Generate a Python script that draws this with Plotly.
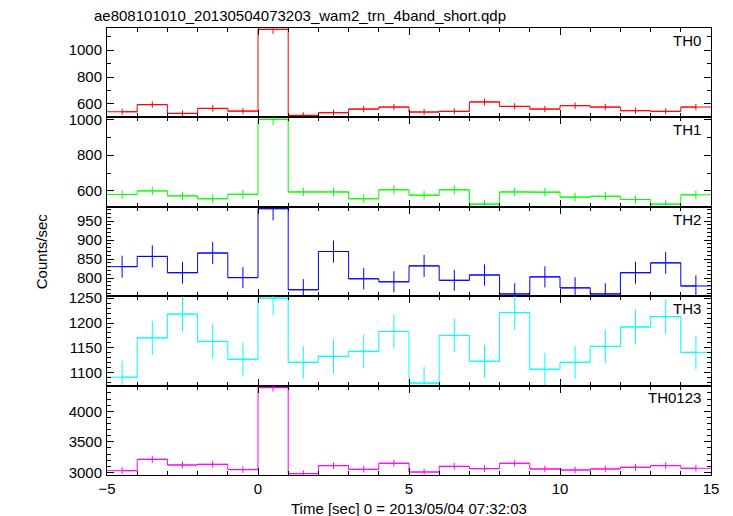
import plotly.graph_objects as go
from plotly.subplots import make_subplots

title_text = "ae808101010_20130504073203_wam2_trn_4band_short.qdp"
x_title = "Time [sec] 0 = 2013/05/04 07:32:03"
y_title = "Counts/sec"

time_center = [-4.5, -3.5, -2.5, -1.5, -0.5, 0.5, 1.5, 2.5, 3.5, 4.5,
               5.5, 6.5, 7.5, 8.5, 9.5, 10.5, 11.5, 12.5, 13.5, 14.5]
half_bin = [0.5] * 20

th0 = [542, 595, 530, 567, 547, 1155, 515, 535, 562, 577,
       540, 545, 615, 582, 562, 587, 577, 550, 545, 577]
th0_err = [23, 24, 23, 24, 23, 34, 23, 23, 24, 24,
           23, 23, 25, 24, 24, 24, 24, 23, 23, 24]
th1 = [580, 600, 572, 556, 581, 1000, 594, 594, 556, 606,
       576, 606, 526, 594, 593, 565, 570, 552, 526, 578]
th1_err = [24, 24, 24, 24, 24, 32, 24, 24, 24, 25,
           24, 25, 23, 24, 24, 24, 24, 23, 23, 24]
th2 = [830, 857, 814, 866, 801, 983, 769, 870, 798, 790,
       832, 794, 808, 758, 803, 774, 758, 814, 840, 779]
th2_err = [29, 29, 29, 29, 28, 31, 28, 29, 28, 28,
           29, 28, 28, 28, 28, 28, 28, 29, 29, 28]
th3 = [1091, 1170, 1218, 1163, 1127, 1250, 1121, 1133, 1143, 1183,
       1079, 1175, 1123, 1221, 1107, 1121, 1153, 1192, 1213, 1141]
th3_err = [33, 34, 35, 34, 34, 35, 33, 34, 34, 34,
           33, 34, 33, 35, 33, 33, 34, 35, 35, 34]
th0123 = [3027, 3213, 3120, 3131, 3044, 4388, 2978, 3109, 3049, 3148,
          3005, 3098, 3060, 3148, 3055, 3038, 3055, 3082, 3109, 3066]
th0123_err = [55, 57, 56, 56, 55, 66, 55, 56, 55, 56,
              55, 56, 55, 56, 55, 55, 55, 56, 56, 55]

panel_names = ["TH0", "TH1", "TH2", "TH3", "TH0123"]
panel_values = [th0, th1, th2, th3, th0123]
panel_errors = [th0_err, th1_err, th2_err, th3_err, th0123_err]
panel_colors = ["#ff0000", "#00ff00", "#0000ff", "#00ffff", "#ff00ff"]
panel_ranges = [[500, 1165], [511, 1011], [752, 988], [1074, 1254], [2956, 4421]]
panel_dtick = [200, 200, 50, 50, 500]
panel_minor = [100, 100, 10, 10, 100]

FONT = "Liberation Sans, Arial, Helvetica, sans-serif"

fig = make_subplots(rows=5, cols=1, shared_xaxes=True, vertical_spacing=0)

for i in range(5):
    fig.add_trace(go.Scatter(
        x=time_center, y=panel_values[i], mode="lines", line_shape="hvh",
        line=dict(color=panel_colors[i], width=1),
        error_x=dict(type="data", array=half_bin, color=panel_colors[i], thickness=1, width=0),
        error_y=dict(type="data", array=panel_errors[i], color=panel_colors[i], thickness=1, width=0),
        showlegend=False, hoverinfo="skip",
    ), row=i + 1, col=1)
    fig.update_yaxes(
        range=panel_ranges[i], dtick=panel_dtick[i], tick0=0,
        ticks="inside", ticklen=7, tickwidth=1, tickcolor="black",
        minor=dict(dtick=panel_minor[i], tick0=0, ticks="inside", ticklen=4, tickcolor="black", showgrid=False),
        showline=True, linecolor="black", linewidth=1, mirror="allticks",
        showgrid=False, zeroline=False,
        tickfont=dict(family=FONT, size=15, color="black"),
        ticklabelstandoff=1,
        row=i + 1, col=1)
    fig.update_xaxes(
        range=[-5, 15], dtick=5, tick0=0,
        ticks="inside", ticklen=7, tickwidth=1, tickcolor="black",
        minor=dict(dtick=1, tick0=0, ticks="inside", ticklen=4, tickcolor="black", showgrid=False),
        showline=True, linecolor="black", linewidth=1, mirror="allticks",
        showgrid=False, zeroline=False,
        showticklabels=(i == 4),
        tickfont=dict(family=FONT, size=15, color="black"),
        row=i + 1, col=1)
    xref = "x domain" if i == 0 else f"x{i + 1} domain"
    yref = "y domain" if i == 0 else f"y{i + 1} domain"
    fig.add_annotation(text=panel_names[i], xref=xref, yref=yref, x=0.987, y=0.98,
                       xanchor="right", yanchor="top", showarrow=False,
                       font=dict(family=FONT, size=15, color="black"))

fig.add_annotation(text=title_text, xref="paper", yref="paper", x=-0.025, y=1.029,
                   xanchor="left", yanchor="middle", showarrow=False,
                   font=dict(family=FONT, size=15, color="black"))
fig.add_annotation(text=y_title, xref="paper", yref="paper", x=-0.108, y=0.5,
                   xanchor="center", yanchor="middle", textangle=-90, showarrow=False,
                   font=dict(family=FONT, size=15, color="black"))
fig.add_annotation(text=x_title, xref="paper", yref="paper", x=0.5, y=-0.074,
                   xanchor="center", yanchor="middle", showarrow=False,
                   font=dict(family=FONT, size=15, color="black"))

fig.update_layout(
    width=725, height=508,
    margin=dict(l=99, r=22, t=20, b=41),
    paper_bgcolor="white", plot_bgcolor="white",
    font=dict(family=FONT, size=15, color="black"),
)

fig.write_html("out.html")
